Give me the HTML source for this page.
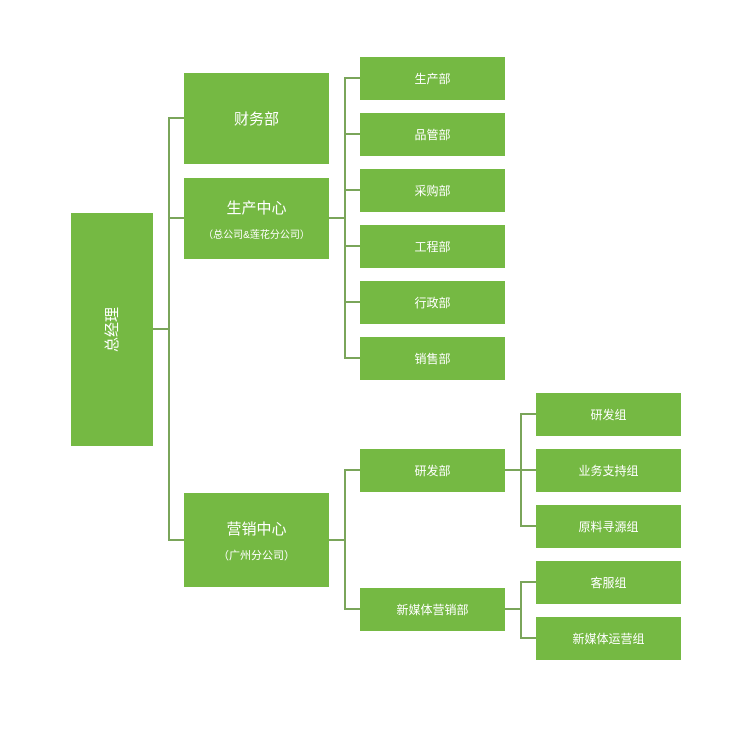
<!DOCTYPE html>
<html><head><meta charset="utf-8"><style>
body{margin:0;width:738px;height:733px;background:#fff;position:relative;overflow:hidden;font-family:"Liberation Sans","Noto Sans CJK SC",sans-serif}
.b{position:absolute;background:#75b943;color:#fff;display:flex;flex-direction:column;align-items:center;justify-content:center;font-size:12px;text-align:center}
.l{position:absolute;background:#7aa55a}
.h{height:2px}.v{width:2px}
</style></head><body>
<div class="b" style="left:71px;top:213px;width:82px;height:233px"><div style="transform:rotate(-90deg);font-size:15px;white-space:nowrap">总经理</div></div>
<div class="b" style="left:184px;top:73px;width:145px;height:91px;font-size:15px">财务部</div>
<div class="b" style="left:184px;top:178px;width:145px;height:81px"><div style="font-size:15px">生产中心</div><div style="font-size:10px;margin-top:8px">（总公司&amp;莲花分公司）</div></div>
<div class="b" style="left:184px;top:493px;width:145px;height:94px"><div style="font-size:15px">营销中心</div><div style="font-size:11px;margin-top:8px">（广州分公司）</div></div>

<div class="b" style="left:360px;top:57px;width:145px;height:43px">生产部</div>
<div class="b" style="left:360px;top:113px;width:145px;height:43px">品管部</div>
<div class="b" style="left:360px;top:169px;width:145px;height:43px">采购部</div>
<div class="b" style="left:360px;top:225px;width:145px;height:43px">工程部</div>
<div class="b" style="left:360px;top:281px;width:145px;height:43px">行政部</div>
<div class="b" style="left:360px;top:337px;width:145px;height:43px">销售部</div>
<div class="b" style="left:360px;top:449px;width:145px;height:43px">研发部</div>
<div class="b" style="left:360px;top:588px;width:145px;height:43px">新媒体营销部</div>

<div class="b" style="left:536px;top:393px;width:145px;height:43px">研发组</div>
<div class="b" style="left:536px;top:449px;width:145px;height:43px">业务支持组</div>
<div class="b" style="left:536px;top:505px;width:145px;height:43px">原料寻源组</div>
<div class="b" style="left:536px;top:561px;width:145px;height:43px">客服组</div>
<div class="b" style="left:536px;top:617px;width:145px;height:43px">新媒体运营组</div>

<div class="l h" style="left:153px;top:328px;width:17px"></div>
<div class="l v" style="left:168px;top:118px;height:423px"></div>
<div class="l h" style="left:168px;top:117px;width:16px"></div>
<div class="l h" style="left:168px;top:217px;width:16px"></div>
<div class="l h" style="left:168px;top:539px;width:16px"></div>

<div class="l h" style="left:329px;top:217px;width:17px"></div>
<div class="l v" style="left:344px;top:78px;height:281px"></div>
<div class="l h" style="left:344px;top:77px;width:16px"></div>
<div class="l h" style="left:344px;top:133px;width:16px"></div>
<div class="l h" style="left:344px;top:189px;width:16px"></div>
<div class="l h" style="left:344px;top:245px;width:16px"></div>
<div class="l h" style="left:344px;top:301px;width:16px"></div>
<div class="l h" style="left:344px;top:357px;width:16px"></div>

<div class="l h" style="left:329px;top:539px;width:17px"></div>
<div class="l v" style="left:344px;top:469px;height:141px"></div>
<div class="l h" style="left:344px;top:469px;width:16px"></div>
<div class="l h" style="left:344px;top:608px;width:16px"></div>

<div class="l h" style="left:505px;top:469px;width:17px"></div>
<div class="l v" style="left:520px;top:413px;height:113px"></div>
<div class="l h" style="left:520px;top:413px;width:16px"></div>
<div class="l h" style="left:520px;top:469px;width:16px"></div>
<div class="l h" style="left:520px;top:525px;width:16px"></div>

<div class="l h" style="left:505px;top:608px;width:17px"></div>
<div class="l v" style="left:520px;top:581px;height:58px"></div>
<div class="l h" style="left:520px;top:581px;width:16px"></div>
<div class="l h" style="left:520px;top:637px;width:16px"></div>
</body></html>
